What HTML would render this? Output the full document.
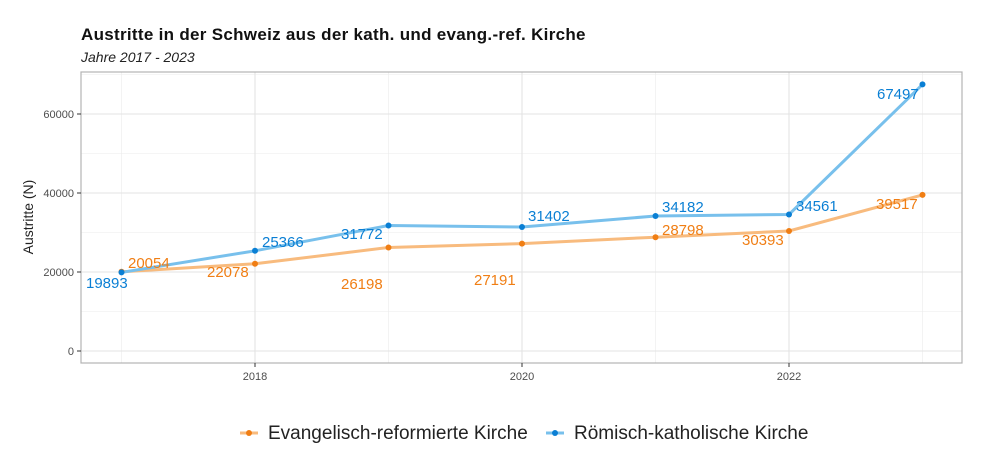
<!DOCTYPE html>
<html><head><meta charset="utf-8"><style>
body{margin:0;background:#fff;}
svg{display:block;font-family:"Liberation Sans",sans-serif;}
</style></head><body>
<svg width="1000" height="451" viewBox="0 0 1000 451">
<text x="81" y="40" font-size="17" font-weight="bold" fill="#111" letter-spacing="0.3">Austritte in der Schweiz aus der kath. und evang.-ref. Kirche</text>
<text x="81" y="62" font-size="14" font-style="italic" fill="#222">Jahre 2017 - 2023</text>
<g stroke="#ebebeb" stroke-width="0.6">
<line x1="81" x2="962" y1="311.5" y2="311.5"/><line x1="81" x2="962" y1="232.5" y2="232.5"/><line x1="81" x2="962" y1="153.5" y2="153.5"/><line x1="81" x2="962" y1="74.5" y2="74.5"/>
<line x1="121.5" x2="121.5" y1="72" y2="363"/><line x1="388.5" x2="388.5" y1="72" y2="363"/><line x1="655.5" x2="655.5" y1="72" y2="363"/><line x1="922.5" x2="922.5" y1="72" y2="363"/>
</g>
<g stroke="#e3e3e3" stroke-width="1.1">
<line x1="81" x2="962" y1="351" y2="351"/><line x1="81" x2="962" y1="272" y2="272"/><line x1="81" x2="962" y1="193" y2="193"/><line x1="81" x2="962" y1="114" y2="114"/>
<line x1="255" x2="255" y1="72" y2="363"/><line x1="522" x2="522" y1="72" y2="363"/><line x1="789" x2="789" y1="72" y2="363"/>
</g>
<rect x="81" y="72" width="881" height="291" fill="none" stroke="#b3b3b3" stroke-width="1.2"/>
<g stroke="#333" stroke-width="1">
<line x1="77" x2="81" y1="351" y2="351"/><line x1="77" x2="81" y1="272" y2="272"/><line x1="77" x2="81" y1="193" y2="193"/><line x1="77" x2="81" y1="114" y2="114"/>
<line x1="255" x2="255" y1="363" y2="367"/><line x1="522" x2="522" y1="363" y2="367"/><line x1="789" x2="789" y1="363" y2="367"/>
</g>
<g font-size="11" fill="#4d4d4d" text-anchor="end">
<text x="74" y="355">0</text><text x="74" y="276">20000</text><text x="74" y="197">40000</text><text x="74" y="118">60000</text>
</g>
<g font-size="11" fill="#4d4d4d" text-anchor="middle">
<text x="255" y="380">2018</text><text x="522" y="380">2020</text><text x="789" y="380">2022</text>
</g>
<text transform="translate(33,217) rotate(-90)" font-size="14" fill="#222" text-anchor="middle">Austritte (N)</text>
<polyline fill="none" stroke="#f8bb7e" stroke-width="3" points="121.5,271.8 255,263.8 388.5,247.5 522,243.6 655.5,237.2 789,231 922.5,194.9"/>
<polyline fill="none" stroke="#78c0ec" stroke-width="3" points="121.5,272.4 255,250.8 388.5,225.5 522,227 655.5,216 789,214.5 922.5,84.4"/>
<g fill="#f07e14">
<circle cx="121.5" cy="271.8" r="3"/><circle cx="255" cy="263.8" r="3"/><circle cx="388.5" cy="247.5" r="3"/><circle cx="522" cy="243.6" r="3"/><circle cx="655.5" cy="237.2" r="3"/><circle cx="789" cy="231" r="3"/><circle cx="922.5" cy="194.9" r="3"/>
</g>
<g fill="#0a7fd4">
<circle cx="121.5" cy="272.4" r="3"/><circle cx="255" cy="250.8" r="3"/><circle cx="388.5" cy="225.5" r="3"/><circle cx="522" cy="227" r="3"/><circle cx="655.5" cy="216" r="3"/><circle cx="789" cy="214.5" r="3"/><circle cx="922.5" cy="84.4" r="3"/>
</g>
<g font-size="15" fill="#f07e14">
<text x="128" y="268">20054</text><text x="207" y="277">22078</text><text x="341" y="289">26198</text><text x="474" y="285">27191</text><text x="662" y="235">28798</text><text x="742" y="245">30393</text><text x="876" y="209">39517</text>
</g>
<g font-size="15" fill="#0a7fd4">
<text x="86" y="288">19893</text><text x="262" y="247">25366</text><text x="341" y="239">31772</text><text x="528" y="221">31402</text><text x="662" y="212">34182</text><text x="796" y="211">34561</text><text x="877" y="99">67497</text>
</g>
<g font-size="19" fill="#222">
<line x1="240" x2="258" y1="433" y2="433" stroke="#f8bb7e" stroke-width="3"/><circle cx="249" cy="433" r="3" fill="#f07e14"/>
<text x="268" y="439">Evangelisch-reformierte Kirche</text>
<line x1="546" x2="564" y1="433" y2="433" stroke="#78c0ec" stroke-width="3"/><circle cx="555" cy="433" r="3" fill="#0a7fd4"/>
<text x="574" y="439">Römisch-katholische Kirche</text>
</g>
</svg>
</body></html>
